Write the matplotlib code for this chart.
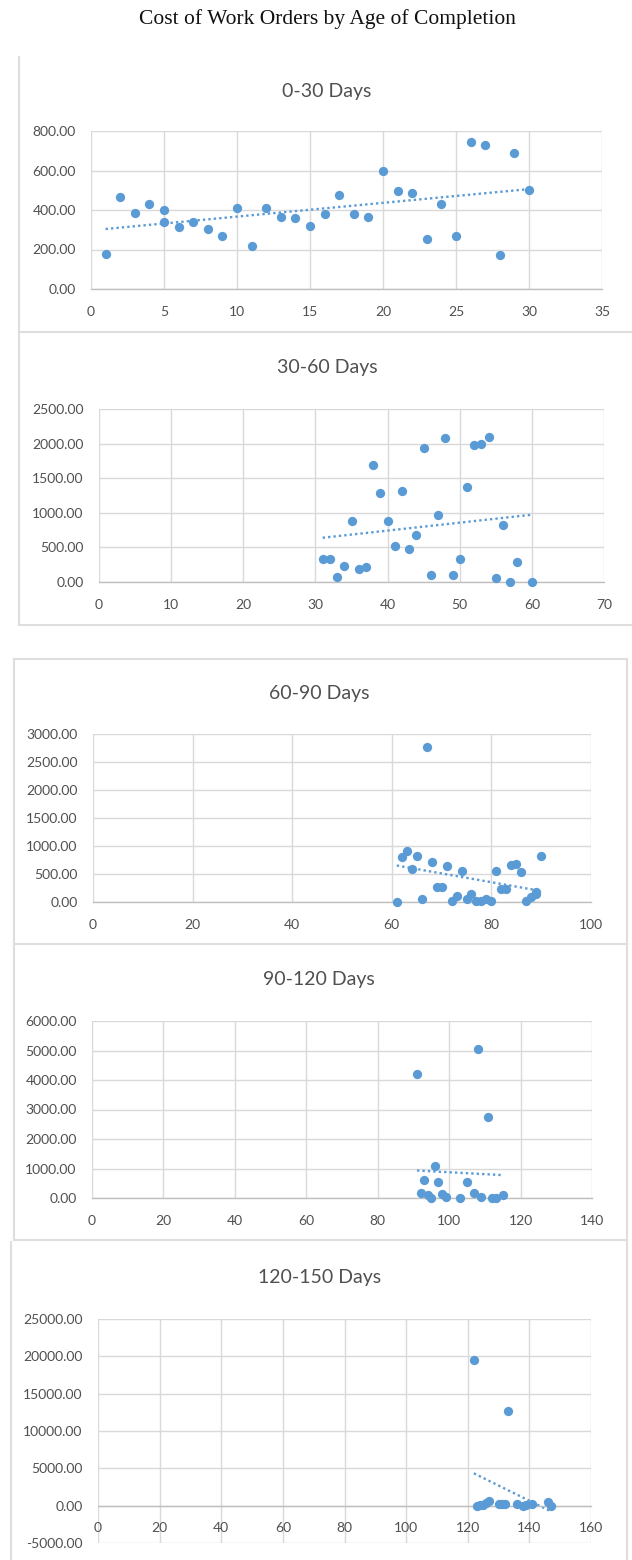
import matplotlib
matplotlib.use("Agg")

import matplotlib.pyplot as plt
from matplotlib.lines import Line2D
from matplotlib.ticker import FormatStrFormatter, MultipleLocator
import numpy as np

# data (days to completion, cost)
days_0_30 = [1, 2, 3, 4, 5, 5, 6, 7, 8, 9, 10, 11, 12, 13, 14, 15, 16, 17, 18,
             19, 20, 21, 22, 23, 24, 25, 26, 27, 28, 29, 30]
cost_0_30 = [178, 468, 387, 428, 401, 338, 313, 340, 306, 266, 408, 219, 408,
             367, 360, 320, 381, 475, 381, 367, 598, 495, 488, 253, 428, 266,
             744, 731, 172, 690, 502]

days_30_60 = [31, 32, 33, 34, 35, 36, 37, 38, 39, 40, 41, 42, 43, 44, 45, 46,
              47, 48, 49, 50, 51, 52, 53, 54, 55, 56, 57, 58, 60]
cost_30_60 = [329, 329, 77, 232, 875, 193, 213, 1688, 1282, 875, 522, 1320,
              484, 677, 1939, 97, 972, 2075, 97, 329, 1378, 1978, 1997, 2094,
              58, 817, 0, 290, 0]

days_60_90 = [61, 62, 63, 64, 65, 66, 67, 68, 69, 70, 71, 72, 73, 74, 75, 76,
              77, 78, 79, 80, 81, 82, 83, 84, 85, 86, 87, 88, 89, 89, 90]
cost_60_90 = [5, 798, 915, 584, 821, 54, 2774, 720, 262, 262, 637, 12, 107,
              559, 54, 137, 12, 12, 54, 12, 559, 232, 232, 655, 679, 530, 25,
              95, 137, 173, 821]

days_90_120 = [91, 92, 93, 94, 95, 96, 97, 98, 99, 103, 105, 107, 108, 109,
               111, 112, 113, 115]
cost_90_120 = [4196, 180, 615, 102, 0, 1080, 532, 124, 45, 0, 532, 158, 5053,
               23, 2741, 0, 0, 90]

days_120_150 = [122, 123, 124, 125, 126, 127, 130, 131, 132, 133, 136, 138,
                139, 141, 146, 147]
cost_120_150 = [19500, 0, 50, 120, 300, 600, 250, 230, 220, 12700, 200, 0, 50,
                220, 550, 0]

panel_titles = ["0-30 Days", "30-60 Days", "60-90 Days", "90-120 Days",
                "120-150 Days"]
x_limits = [(0, 35), (0, 70), (0, 100), (0, 140), (0, 160)]
x_steps = [5, 10, 20, 20, 20]
y_limits = [(0, 800), (0, 2500), (0, 3000), (0, 6000), (-5000, 25000)]
y_steps = [200, 500, 500, 1000, 5000]

series = [
    (days_0_30, cost_0_30),
    (days_30_60, cost_30_60),
    (days_60_90, cost_60_90),
    (days_90_120, cost_90_120),
    (days_120_150, cost_120_150),
]

W, H = 632, 1560
BLUE = "#5B9BD5"
GRID = "#D9D9D9"
TEXT = "#505050"

# plot areas in pixels: left, top, right, bottom
plot_px = [
    (91, 131, 602, 289),
    (99, 409, 604, 582),
    (93, 734, 591, 902),
    (92, 1021, 592, 1198),
    (98, 1319, 591, 1543),
]
title_px = [(327, 91), (327, 367), (319, 693), (319, 979), (320, 1278)]

# chart box outlines: list of segments (x0, y0, x1, y1) in pixels
box_lines = [
    (19, 57, 19, 332), (19, 332, 632, 332),
    (19, 332, 19, 625), (19, 625, 632, 625),
    (14, 659, 627, 659), (14, 659, 14, 944), (627, 659, 627, 944),
    (14, 944, 627, 944), (14, 944, 14, 1240), (627, 944, 627, 1240),
    (14, 1240, 627, 1240), (11, 1242, 11, 1560), (627, 1242, 627, 1560),
]

fig = plt.figure(figsize=(W / 100, H / 100), dpi=100)

for x0, y0, x1, y1 in box_lines:
    fig.add_artist(Line2D([x0 / W, x1 / W], [1 - y0 / H, 1 - y1 / H],
                          color="#DEDEDE", lw=1.5, transform=fig.transFigure))

fig.text(327 / W, 1 - 19 / H, "Cost of Work Orders by Age of Completion",
         ha="center", va="center", fontsize=15.5, family="Liberation Serif",
         color="#111111")

for i, (xs, ys) in enumerate(series):
    l, t, r, b = plot_px[i]
    ax = fig.add_axes([l / W, 1 - b / H, (r - l) / W, (b - t) / H])

    xs = np.array(xs, dtype=float)
    ys = np.array(ys, dtype=float)

    ax.set_xlim(*x_limits[i])
    ax.set_ylim(*y_limits[i])
    ax.xaxis.set_major_locator(MultipleLocator(x_steps[i]))
    ax.yaxis.set_major_locator(MultipleLocator(y_steps[i]))
    ax.yaxis.set_major_formatter(FormatStrFormatter("%.2f"))

    ax.grid(True, color=GRID, lw=1.0)
    ax.set_axisbelow(True)
    for side in ["top", "right", "left"]:
        ax.spines[side].set_visible(False)
    ax.spines["bottom"].set_color("#BFBFBF")
    ax.spines["bottom"].set_linewidth(1.0)
    if y_limits[i][0] < 0:
        ax.spines["bottom"].set_position(("data", 0))

    ax.tick_params(length=0, labelsize=10, labelcolor=TEXT)
    ax.tick_params(axis="x", pad=12)
    ax.tick_params(axis="y", pad=11)
    for lab in ax.get_xticklabels() + ax.get_yticklabels():
        lab.set_family("Lato")

    # linear trendline over the data range
    k, c = np.polyfit(xs, ys, 1)
    tx = np.array([xs.min(), xs.max()])
    ax.plot(tx, k * tx + c, color=BLUE, lw=1.7, ls=(0, (1, 1.3)),
            zorder=2)

    ax.plot(xs, ys, "o", color=BLUE, markersize=6.7, markeredgewidth=0,
            clip_on=False, zorder=3)

    cx, cy = title_px[i]
    fig.text(cx / W, 1 - cy / H, panel_titles[i], ha="center", va="center",
             fontsize=14, family="Lato", color=TEXT)

fig.savefig("out.png", dpi=100)
plt.close(fig)
